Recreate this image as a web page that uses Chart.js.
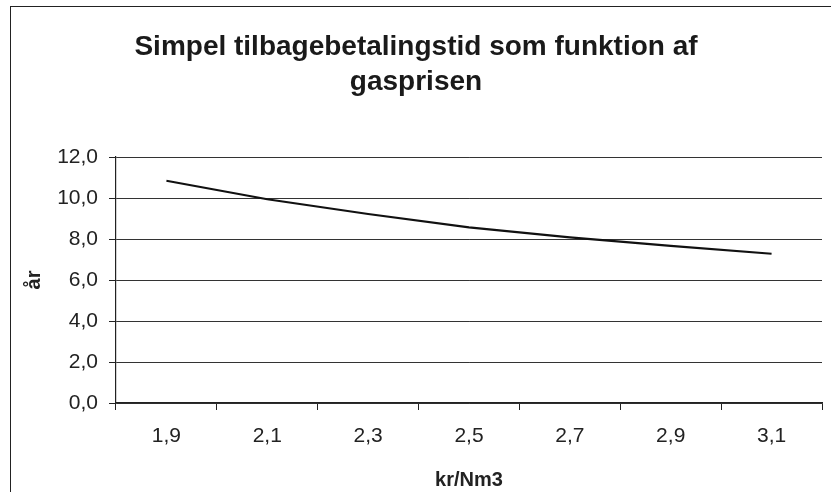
<!DOCTYPE html>
<html>
<head>
<meta charset="utf-8">
<script src="https://cdn.jsdelivr.net/npm/chart.js@4"></script>
<style>
  html, body { margin: 0; padding: 0; background: #fff; overflow: hidden; }
  #wrap { position: relative; width: 831px; height: 492px; }
  #frame { position: absolute; left: 10px; top: 6px; width: 900px; height: 600px;
           border-left: 1.5px solid #222; border-top: 1.5px solid #222; pointer-events: none; }
  canvas { position: absolute; left: 0; top: 0; }
</style>
</head>
<body>
<div id="wrap">
  <canvas id="payback" width="831" height="492"></canvas>
  <div id="frame"></div>
</div>
<script>
  const prices = ['1,9', '2,1', '2,3', '2,5', '2,7', '2,9', '3,1'];
  const years = [10.84, 9.94, 9.22, 8.57, 8.08, 7.66, 7.28];
  const titleLines = ['Simpel tilbagebetalingstid som funktion af', 'gasprisen'];

  const font = "'Liberation Sans', Arial, sans-serif";

  new Chart(document.getElementById('payback'), {
    type: 'line',
    data: {
      labels: prices,
      datasets: [{
        data: years,
        borderColor: '#111',
        borderWidth: 2.2,
        pointRadius: 0,
        tension: 0,
        fill: false
      }]
    },
    options: {
      responsive: false,
      animation: false,
      devicePixelRatio: 1,
      layout: { padding: { left: 10, right: 9, top: 0, bottom: 0 } },
      plugins: {
        legend: { display: false },
        tooltip: { enabled: false },
        title: {
          display: true,
          text: titleLines,
          color: '#1a1a1a',
          font: { family: font, size: 28, weight: 'bold', lineHeight: 1.25 },
          padding: { top: 30, bottom: 57 }
        }
      },
      scales: {
        x: {
          offset: true,
          afterFit: s => { s.height = 89; },
          grid: {
            offset: true,
            drawOnChartArea: true,
            color: c => c.index === prices.length ? '#777' : 'rgba(0,0,0,0)',
            tickColor: '#222',
            tickLength: 7
          },
          border: { color: '#222', width: 1.2 },
          ticks: { color: '#222', padding: 14, font: { family: font, size: 21 } },
          title: {
            display: true,
            text: 'kr/Nm3',
            color: '#222',
            font: { family: font, size: 20, weight: 'bold' },
            padding: { top: 0, bottom: 0 }
          }
        },
        y: {
          min: 0,
          max: 12,
          afterFit: s => { s.width = 106; },
          grid: { color: '#333', tickColor: '#222', tickLength: 7, lineWidth: 1 },
          border: { color: '#222', width: 1.2 },
          ticks: {
            stepSize: 2,
            color: '#222',
            padding: 11,
            font: { family: font, size: 21 },
            callback: v => v.toFixed(1).replace('.', ',')
          },
          title: {
            display: true,
            text: 'år',
            color: '#222',
            font: { family: font, size: 20, weight: 'bold' },
            padding: { top: 12, bottom: 0 }
          }
        }
      }
    }
  });
</script>
</body>
</html>
